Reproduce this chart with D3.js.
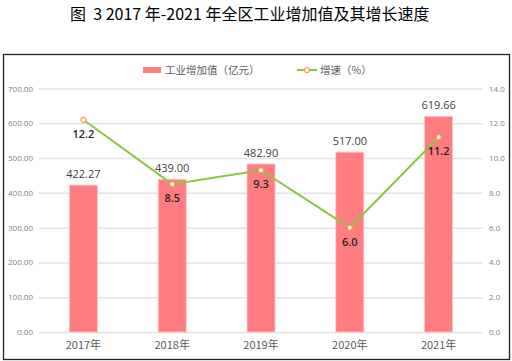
<!DOCTYPE html>
<html>
<head>
<meta charset="utf-8">
<script src="https://cdn.jsdelivr.net/npm/d3@7"></script>
<style>
  body { margin: 0; background: #fff; }
  #chart { width: 512px; height: 361px; }
  text { font-family: "Noto Sans CJK SC", "Noto Sans", sans-serif; }
</style>
</head>
<body>
<div id="chart"></div>
<script>
//Datos
const years = ['2017年', '2018年', '2019年', '2020年', '2021年'];
const valorAnadido = [422.27, 439.00, 482.90, 517.00, 619.66];
const crecimiento = [12.2, 8.5, 9.3, 6.0, 11.2];
const ticksLeft = [0, 100, 200, 300, 400, 500, 600, 700];
const ticksRight = [0, 2, 4, 6, 8, 10, 12, 14];

//Colores
const COLOR_BAR = '#FF7C80',
COLOR_BAR_EDGE = '#FFC4C4',
COLOR_LINE = '#8CC63F',
COLOR_MARKER = '#F4A052',
COLOR_GRID = '#E3E3E3',
COLOR_AXIS_TEXT = '#7F7F7F';

let margin = {top: 88.5, left: 39, right: 29, bottom: 29},
    width = 512 - margin.left - margin.right,
    height = 361 - margin.top - margin.bottom;

let svg = d3.select('#chart').append('svg')
    .attr('width', 512)
    .attr('height', 361);

//Título
svg.append('text')
    .attr('x', 70)
    .attr('y', 20)
    .attr('text-anchor', 'start')
    .style('font-size', '16px')
    .style('white-space', 'pre')
    .style('fill', '#000')
    .text('图  3 2017 年-2021 年全区工业增加值及其增长速度');

//Marco
svg.append('rect')
    .attr('x', 3.5).attr('y', 54.5)
    .attr('width', 506).attr('height', 305)
    .attr('fill', 'none')
    .attr('stroke', '#222')
    .attr('stroke-width', 1.3);

let g = svg.append('g')
    .attr('transform', 'translate(' + margin.left + ',' + margin.top + ')');

let x = d3.scaleBand()
    .domain(years)
    .range([0, width])
    .paddingInner(0.685)
    .paddingOuter(0.3425);

let yL = d3.scaleLinear().domain([0, 700]).range([height, 0]);
let yR = d3.scaleLinear().domain([0, 14]).range([height, 0]);

//Rejilla
g.append('g')
    .call(d3.axisLeft(yL).tickValues(ticksLeft).tickSize(-width).tickFormat(d => d.toFixed(2)).tickPadding(6))
    .call(ax => ax.select('.domain').remove())
    .call(ax => ax.selectAll('line').attr('stroke', COLOR_GRID).attr('stroke-width', 1.5))
    .call(ax => ax.selectAll('text').style('font-size', '8px').style('fill', COLOR_AXIS_TEXT).style('font-family', 'Open Sans'));

g.append('g')
    .attr('transform', 'translate(' + width + ',0)')
    .call(d3.axisRight(yR).tickValues(ticksRight).tickSize(0).tickFormat(d => d.toFixed(1)).tickPadding(6))
    .call(ax => ax.select('.domain').remove())
    .call(ax => ax.selectAll('text').style('font-size', '8px').style('fill', COLOR_AXIS_TEXT).style('font-family', 'Open Sans'));

//Eje X
g.append('g')
    .attr('transform', 'translate(0,' + height + ')')
    .call(d3.axisBottom(x).tickSize(0).tickPadding(9))
    .call(ax => ax.select('.domain').remove())
    .call(ax => ax.selectAll('text').style('font-size', '11px').style('fill', '#595959'));

//Barras
g.selectAll('.bar')
    .data(valorAnadido)
    .enter()
    .append('rect')
    .attr('class', 'bar')
    .attr('x', (d, i) => x(years[i]))
    .attr('y', d => yL(d))
    .attr('width', x.bandwidth())
    .attr('height', d => height - yL(d))
    .attr('fill', COLOR_BAR)
    .attr('stroke', COLOR_BAR_EDGE)
    .attr('stroke-width', 0.8);

g.selectAll('.bar-label')
    .data(valorAnadido)
    .enter()
    .append('text')
    .attr('x', (d, i) => x(years[i]) + x.bandwidth() / 2)
    .attr('y', d => yL(d) - 7)
    .attr('text-anchor', 'middle')
    .style('font-family', 'Open Sans')
    .style('font-size', '11px')
    .style('fill', '#404040')
    .text(d => d.toFixed(2));

//Línea
let line = d3.line()
    .x((d, i) => x(years[i]) + x.bandwidth() / 2)
    .y(d => yR(d));

g.append('path')
    .datum(crecimiento)
    .attr('d', line)
    .attr('fill', 'none')
    .attr('stroke', COLOR_LINE)
    .attr('stroke-width', 2);

g.selectAll('.dot')
    .data(crecimiento)
    .enter()
    .append('circle')
    .attr('cx', (d, i) => x(years[i]) + x.bandwidth() / 2)
    .attr('cy', d => yR(d))
    .attr('r', 2.5)
    .attr('fill', '#fff')
    .attr('stroke', COLOR_MARKER)
    .attr('stroke-width', 1.2);

g.selectAll('.line-label')
    .data(crecimiento)
    .enter()
    .append('text')
    .attr('x', (d, i) => x(years[i]) + x.bandwidth() / 2)
    .attr('y', d => yR(d) + 18)
    .attr('text-anchor', 'middle')
    .style('font-family', 'Open Sans')
    .style('font-size', '11px')
    .style('font-weight', '600')
    .style('fill', '#262626')
    .text(d => d.toFixed(1));

//Leyenda
let legend = svg.append('g');
legend.append('rect')
    .attr('x', 143).attr('y', 67)
    .attr('width', 18).attr('height', 6)
    .attr('fill', COLOR_BAR);
legend.append('text')
    .attr('x', 165).attr('y', 74)
    .style('font-size', '10.5px')
    .style('fill', '#595959')
    .text('工业增加值（亿元）');
legend.append('line')
    .attr('x1', 297).attr('x2', 317)
    .attr('y1', 70).attr('y2', 70)
    .attr('stroke', COLOR_LINE)
    .attr('stroke-width', 2);
legend.append('circle')
    .attr('cx', 307).attr('cy', 70)
    .attr('r', 2.5)
    .attr('fill', '#fff')
    .attr('stroke', COLOR_MARKER)
    .attr('stroke-width', 1.2);
legend.append('text')
    .attr('x', 320).attr('y', 74)
    .style('font-size', '10.5px')
    .style('fill', '#595959')
    .text('增速（%）');
</script>
</body>
</html>
